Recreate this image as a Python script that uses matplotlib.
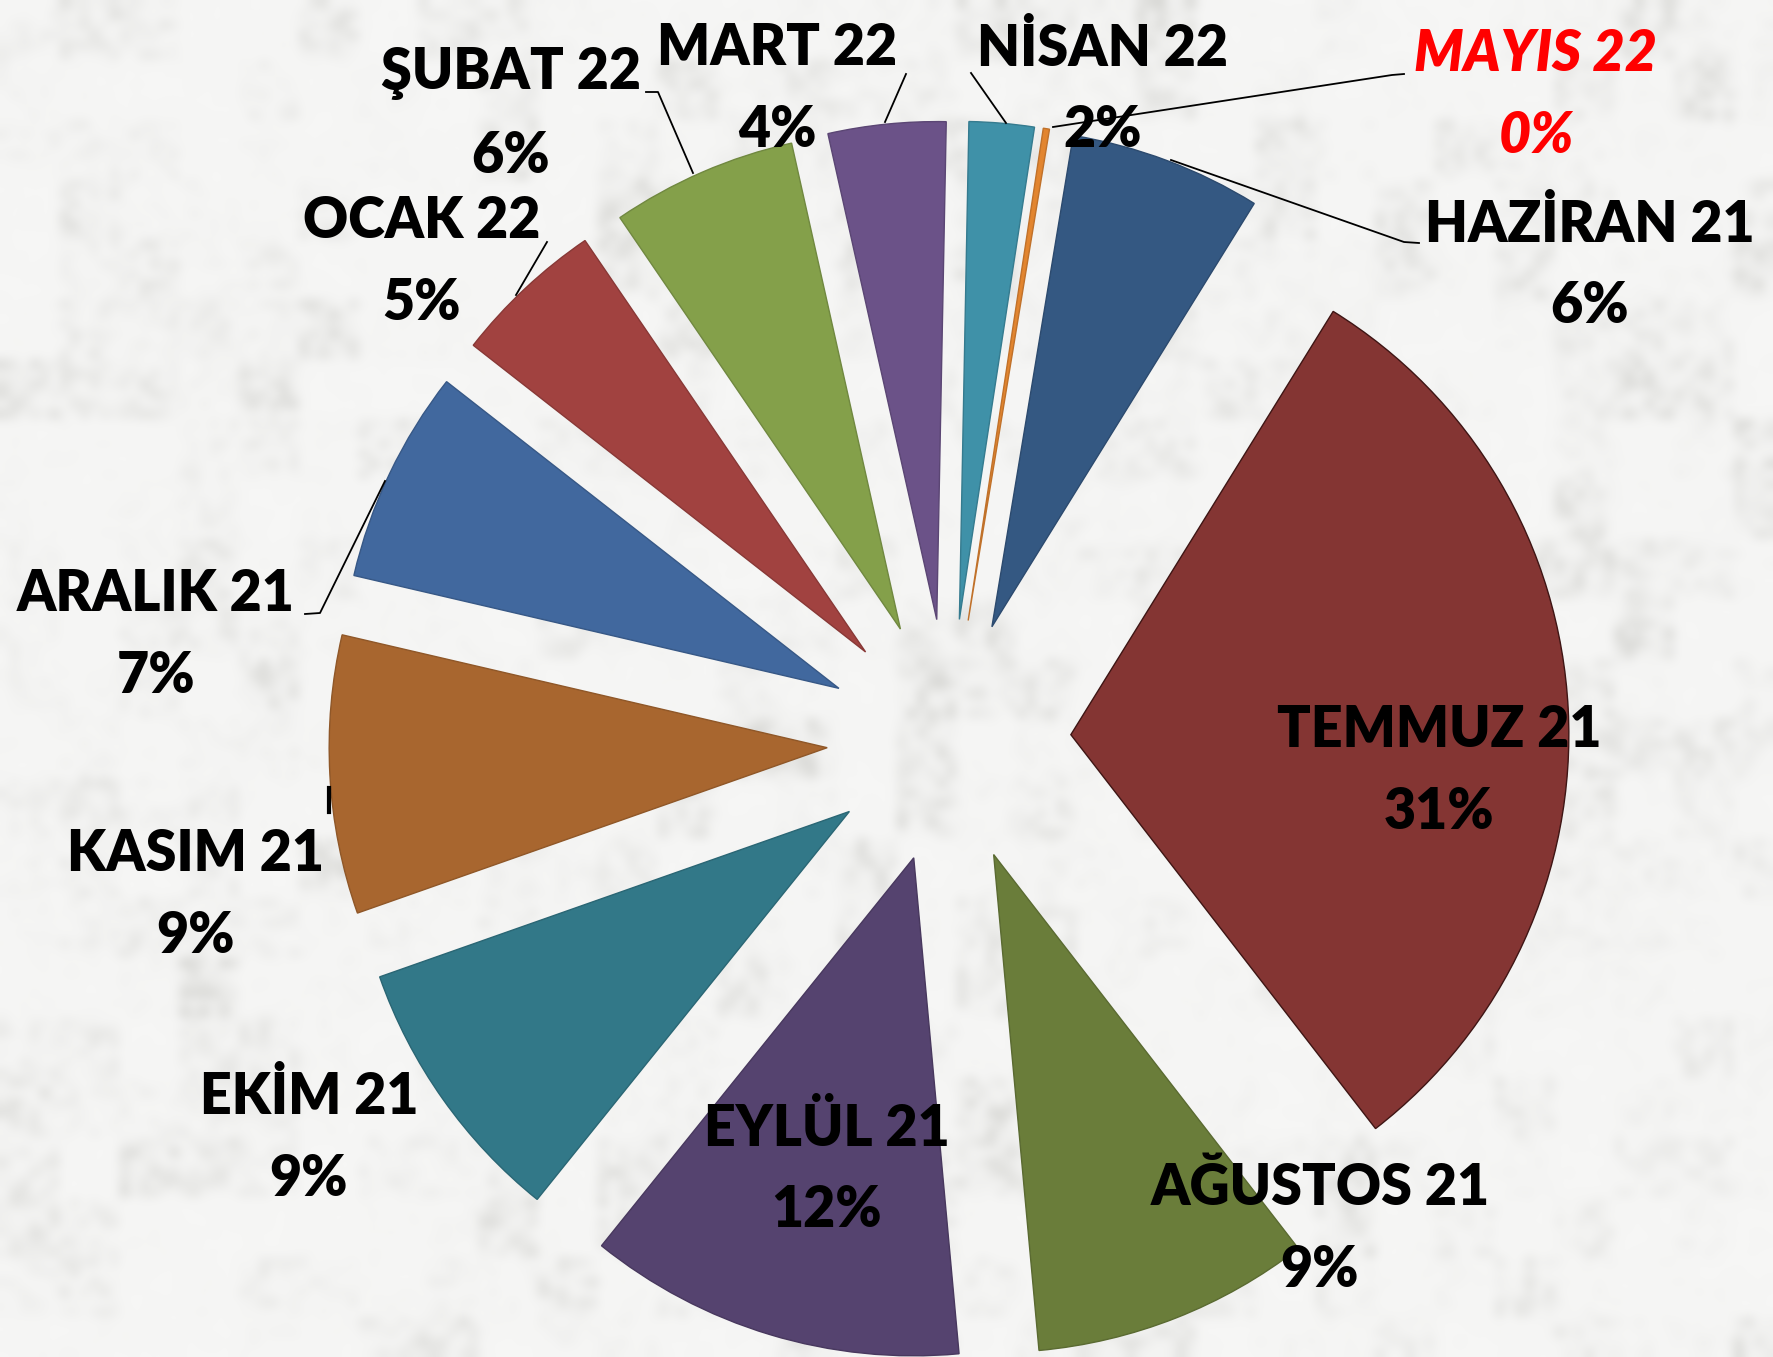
import numpy as np
import matplotlib.pyplot as plt
from matplotlib.colors import LinearSegmentedColormap

W, H = 1774, 1357

months = ["HAZİRAN 21", "TEMMUZ 21", "AĞUSTOS 21", "EYLÜL 21", "EKİM 21", "KASIM 21",
          "ARALIK 21", "OCAK 22", "ŞUBAT 22", "MART 22", "NİSAN 22", "MAYIS 22"]
shares = [6.2, 30.6, 9.0, 12.2, 8.8, 9.0, 6.9, 4.9, 6.0, 3.8, 2.1, 0.2]
colors = ["#345882", "#843533", "#6a7d3a", "#55436f", "#327888", "#a8662f",
          "#41689e", "#a14240", "#84a04a", "#6b5288", "#3f91a8", "#e2852f"]
edges = ["#2c4a6e", "#3e1514", "#5a6a31", "#48385e", "#2a6674", "#8f5728",
         "#375886", "#883836", "#708840", "#5b4674", "#357b8f", "#c0712a"]

# label centres (pixels from top-left), name line / percent line
label_pos = [(1590, 224), (1439, 730), (1320, 1188), (827, 1128), (309, 1097), (196, 854),
             (156, 594), (422, 221), (511, 74), (777, 48), (1103, 48), (1536, 54)]
line_gap = 82

# leader lines in pixels
leaders = [
    [(1419, 243), (1404, 242), (1171, 160)],
    [(646, 92), (658, 92), (693, 173)],
    [(547, 242), (516, 295)],
    [(305, 614), (320, 613), (385, 481)],
    [(906, 74), (885, 122)],
    [(971, 73), (1006, 123)],
    [(1404, 74), (1392, 75), (1053, 127)],
    [(329, 788), (329, 812)],
]

fig = plt.figure(figsize=(W / 100, H / 100), dpi=100)

# marble-like backdrop
bg = fig.add_axes([0, 0, 1, 1], zorder=0)
rng = np.random.default_rng(7)
coarse = np.kron(rng.random((23, 30)), np.ones((6, 6)))[:136, :178]
fine = rng.random((136, 178))
tex = 0.55 * coarse + 0.45 * fine
tex = 1 - tex ** 5
marble = LinearSegmentedColormap.from_list("marble", ["#dadad7", "#f6f6f5"])
bg.imshow(tex, cmap=marble, vmin=0.15, vmax=1, interpolation="bicubic",
          aspect="auto", extent=[0, 1, 0, 1])
bg.axis("off")

# pie in units of the radius (R = 498 px, centre at 949, 741)
R, cx, cy = 498, 949, 741
ax = fig.add_axes([0, 0, 1, 1], zorder=1)
ax.patch.set_alpha(0)
ax.pie(shares, colors=colors, startangle=80.6, counterclock=False,
       explode=[0.245] * len(shares), radius=1, frame=True,
       wedgeprops=dict(linewidth=1.0))
for w, ec in zip(ax.patches, edges):
    w.set_edgecolor(ec)
ax.set_xlim(-cx / R, (W - cx) / R)
ax.set_ylim(-(H - cy) / R, cy / R)
ax.set_aspect("equal")
ax.axis("off")

total = sum(shares)
fam = ["Lato", "DejaVu Sans"]
for name, v, (x, y) in zip(months, shares, label_pos):
    pct = f"{round(v / total * 100)}%"
    red = name.startswith("MAYIS")
    kw = dict(ha="center", va="center", fontsize=40, fontweight="heavy", family=fam,
              color="#ff0000" if red else "black",
              style="italic" if red else "normal", zorder=5)
    fig.text(x / W, 1 - y / H, name, **kw)
    fig.text(x / W, 1 - (y + line_gap) / H, pct, **kw)

for pts in leaders:
    xs = [p[0] / W for p in pts]
    ys = [1 - p[1] / H for p in pts]
    lw = 3 if len(pts) == 2 and pts[0][0] == pts[1][0] else 1.3
    fig.add_artist(plt.Line2D(xs, ys, color="black", lw=lw, zorder=4))

fig.savefig("out.png", dpi=100)
